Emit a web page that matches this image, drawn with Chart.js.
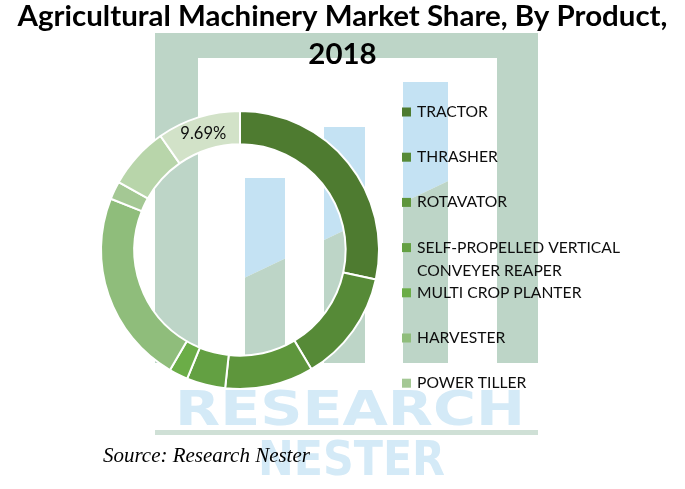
<!DOCTYPE html>
<html>
<head>
<meta charset="utf-8">
<script src="https://cdn.jsdelivr.net/npm/chart.js@4/dist/chart.umd.min.js"></script>
<style>
  html, body { margin: 0; padding: 0; background: #ffffff; }
  #wrap { width: 685px; height: 489px; position: relative; }
  canvas { display: block; }
</style>
</head>
<body>
<div id="wrap"><canvas id="c" width="685" height="489"></canvas></div>
<script>
// ---- data ----
const titleLines = ['Agricultural Machinery Market Share, By Product,', '2018'];
const categories = ['TRACTOR', 'THRASHER', 'ROTAVATOR', 'SELF-PROPELLED VERTICAL\nCONVEYER REAPER', 'MULTI CROP PLANTER', 'HARVESTER', 'POWER TILLER', '', ''];
const shares = [28.4, 13.0, 10.3, 4.5, 2.2, 22.6, 2.1, 7.2, 9.69];
const segmentColors = ['#4e7b30', '#568a37', '#5e963c', '#63a042', '#6bad47', '#8fbd7b', '#a4c894', '#b8d5aa', '#d2e2c8'];
const labelledIndex = [8];
const sourceText = 'Source: Research Nester';
const watermarkWords = ['RESEARCH', 'NESTER'];

function fitSize(ctx, text, style, weight, family, targetWidth) {
  ctx.font = style + ' ' + weight + ' 100px ' + family;
  const w = ctx.measureText(text).width;
  return 100 * targetWidth / w;
}

const watermarkPlugin = {
  id: 'watermark',
  beforeDraw(chart) {
    const ctx = chart.ctx;
    const gray = '#bdd5c7', blue = '#c4e2f3';
    ctx.save();
    // frame
    ctx.fillStyle = gray;
    ctx.fillRect(155, 33, 383, 25);
    ctx.fillRect(155, 33, 43, 330);
    ctx.fillRect(497, 33, 41, 330);
    ctx.fillStyle = '#cfe0d6';
    ctx.fillRect(155, 430, 383, 5);
    const bars = [[245, 178, 40], [324, 127, 41], [403, 82, 45]];
    const yAt = x => 268 - 0.475 * (x - 265);
    // blue part above diagonal
    ctx.save();
    ctx.beginPath();
    ctx.moveTo(0, 0); ctx.lineTo(685, 0); ctx.lineTo(685, yAt(685)); ctx.lineTo(0, yAt(0)); ctx.closePath();
    ctx.clip();
    ctx.fillStyle = blue;
    bars.forEach(b => ctx.fillRect(b[0], b[1], b[2], 363 - b[1]));
    ctx.restore();
    ctx.save();
    ctx.beginPath();
    ctx.moveTo(0, yAt(0)); ctx.lineTo(685, yAt(685)); ctx.lineTo(685, 489); ctx.lineTo(0, 489); ctx.closePath();
    ctx.clip();
    ctx.fillStyle = gray;
    bars.forEach(b => ctx.fillRect(b[0], b[1], b[2], 363 - b[1]));
    ctx.restore();
    // words
    ctx.fillStyle = '#d4eaf7';
    ctx.textBaseline = 'alphabetic';
    ctx.textAlign = 'left';
    const boxes = [[175, 425, 350, 35], [258, 475, 187, 35]];
    watermarkWords.forEach((wd, i) => {
      const b = boxes[i];
      ctx.font = 'bold 100px "DejaVu Sans"';
      const w = ctx.measureText(wd).width;
      ctx.save();
      ctx.translate(b[0], b[1]);
      ctx.scale(b[2] / w, b[3] / 73);
      ctx.fillText(wd, 0, 0);
      ctx.restore();
    });
    ctx.restore();
  }
};

const textPlugin = {
  id: 'texts',
  afterDraw(chart) {
    const ctx = chart.ctx;
    ctx.save();
    // title
    ctx.fillStyle = '#000000';
    ctx.textAlign = 'center';
    ctx.textBaseline = 'alphabetic';
    const tSize = fitSize(ctx, titleLines[0], 'normal', 'bold', 'Lato', 650);
    ctx.font = 'normal bold ' + tSize.toFixed(2) + 'px Lato';
    ctx.fillText(titleLines[0], 342.5, 26);
    ctx.fillText(titleLines[1], 342.5, 64);

    // legend (Excel-style, only items that fit)
    const lSize = fitSize(ctx, 'SELF-PROPELLED VERTICAL', 'normal', 'normal', 'Lato', 203);
    ctx.font = 'normal normal ' + lSize.toFixed(2) + 'px Lato';
    ctx.textAlign = 'left';
    ctx.textBaseline = 'middle';
    const meta = chart.getDatasetMeta(0);
    let row = 0;
    chart.data.labels.forEach((lab, i) => {
      if (!lab) return;
      const y = 112 + row * 45.2;
      ctx.fillStyle = meta.data[i].options.backgroundColor;
      ctx.fillRect(402, y - 4.5, 9, 9);
      ctx.fillStyle = '#0d0d0d';
      lab.split('\n').forEach((ln, k) => ctx.fillText(ln, 417, y + k * 23.5));
      row++;
    });

    // data label
    const pSize = fitSize(ctx, '9.69%', 'normal', 'normal', 'Lato', 46);
    ctx.font = 'normal normal ' + pSize.toFixed(2) + 'px Lato';
    ctx.textAlign = 'center';
    ctx.fillStyle = '#0d0d0d';
    labelledIndex.forEach(i => {
      const p = meta.data[i].getCenterPoint();
      ctx.fillText(chart.data.datasets[0].data[i].toFixed(2) + '%', p.x, p.y);
    });

    // source
    const sSize = fitSize(ctx, sourceText, 'italic', 'normal', '"Liberation Serif"', 207);
    ctx.font = 'italic normal ' + sSize.toFixed(2) + 'px "Liberation Serif"';
    ctx.textAlign = 'left';
    ctx.textBaseline = 'alphabetic';
    ctx.fillStyle = '#000000';
    ctx.fillText(sourceText, 103, 462);
    ctx.restore();
  }
};

new Chart(document.getElementById('c'), {
  type: 'doughnut',
  data: {
    labels: categories,
    datasets: [{
      data: shares,
      backgroundColor: segmentColors,
      borderColor: '#ffffff',
      borderWidth: 2
    }]
  },
  options: {
    responsive: false,
    animation: false,
    cutout: '76%',
    layout: { padding: { left: 100, right: 305, top: 110, bottom: 99 } },
    plugins: {
      legend: { display: false },
      title: { display: false },
      tooltip: { enabled: false }
    }
  },
  plugins: [watermarkPlugin, textPlugin]
});
</script>
</body>
</html>
